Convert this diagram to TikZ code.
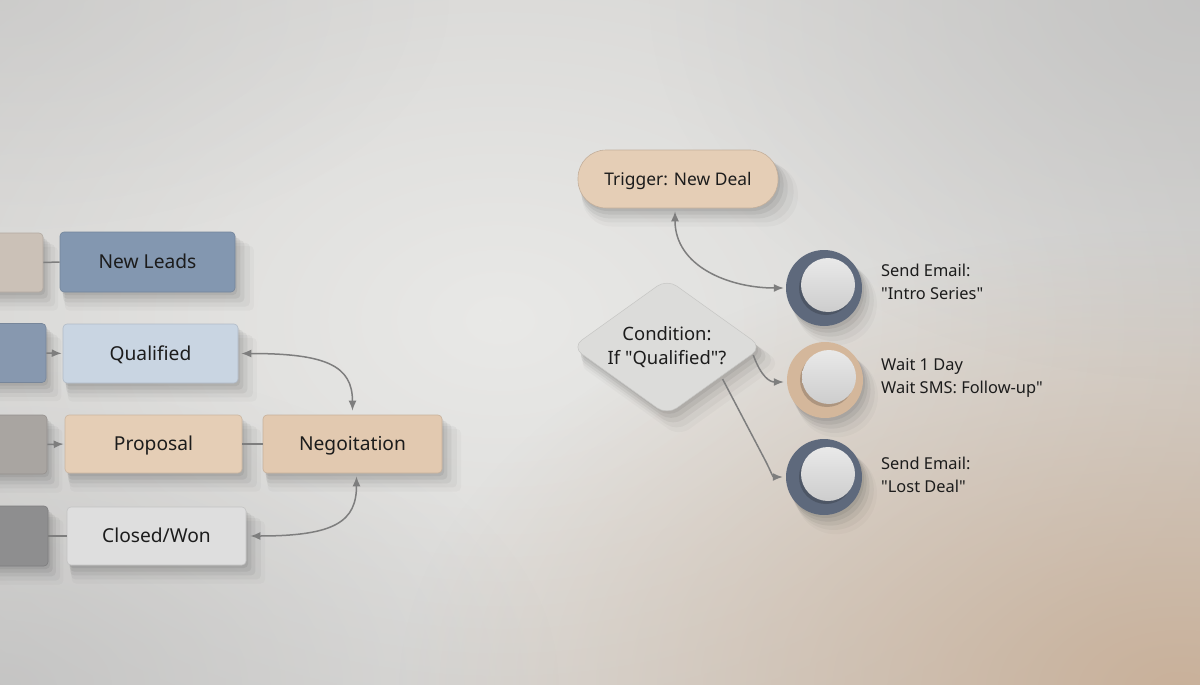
\documentclass[tikz,border=0pt]{standalone}
\usepackage{fontspec}
\setmainfont{Noto Sans}[Ligatures=TeXOff]
\usetikzlibrary{shapes.geometric,arrows.meta,shadows,fadings}
\tikzfading[name=softout, inner color=transparent!0, outer color=transparent!100]
\definecolor{bgbase}{HTML}{D4D3D1}
\definecolor{bglight}{HTML}{E9E9E7}
\definecolor{bgbeige}{HTML}{C6A88C}
\definecolor{bggray}{HTML}{BBBBBB}
\definecolor{stubA}{HTML}{CBC1B7}
\definecolor{stubB}{HTML}{8798AF}
\definecolor{stubC}{HTML}{A9A5A1}
\definecolor{stubD}{HTML}{8E8E8F}
\definecolor{slate}{HTML}{8397B0}
\definecolor{paleblue}{HTML}{C9D5E2}
\definecolor{sand}{HTML}{E5CEB6}
\definecolor{sandB}{HTML}{E2C9B0}
\definecolor{lightgray}{HTML}{DEDEDE}
\definecolor{diafill}{HTML}{DCDCDA}
\definecolor{ringdark}{HTML}{5E697C}
\definecolor{ringsand}{HTML}{D4B79B}
\definecolor{innerc}{HTML}{DADADA}
\definecolor{txt}{HTML}{1C1C1C}
\definecolor{arr}{HTML}{7E7E7E}
\begin{document}
\begin{tikzpicture}[x=1pt,y=-1pt,
  shad/.style={
    drop shadow={shadow xshift=11pt,shadow yshift=-15pt,shadow scale=1.08,opacity=0.025,fill=black},
    drop shadow={shadow xshift=9pt,shadow yshift=-12pt,shadow scale=1.06,opacity=0.035,fill=black},
    drop shadow={shadow xshift=6pt,shadow yshift=-9pt,shadow scale=1.035,opacity=0.05,fill=black},
    drop shadow={shadow xshift=4pt,shadow yshift=-6pt,shadow scale=1.015,opacity=0.06,fill=black},
    drop shadow={shadow xshift=2pt,shadow yshift=-3pt,opacity=0.06,fill=black}},
  box/.style={rectangle,rounded corners=4pt,draw=#1!88!black,line width=0.6pt,fill=#1,
    text=txt,font=\fontsize{19.2}{23}\selectfont,text height=13.6pt,text depth=0pt,shad},
  stub/.style={rectangle,rounded corners=4pt,draw=#1!88!black,line width=0.6pt,fill=#1,shad},
  pill/.style={rectangle,rounded corners=28pt,draw=sand!85!black,line width=0.6pt,fill=sand,
    text=txt,font=\fontsize{17.4}{22}\selectfont,text height=12.4pt,text depth=0pt,shad},
  dia/.style={diamond,rounded corners=12pt,fill=diafill,draw=diafill!90!black,line width=0.5pt,
    inner sep=0pt,shad},
  diatext/.style={align=center,text=txt,font=\fontsize{18.4}{24}\selectfont,inner sep=0pt},
  ring/.style={circle,minimum size=76pt,inner sep=0pt,fill=#1,shad},
  innerball/.style={circle,minimum size=54pt,inner sep=0pt,top color=innerc!60!white,bottom color=innerc!94!black,
    drop shadow={shadow xshift=-2pt,shadow yshift=-3pt,opacity=0.18,fill=black}},
  lab/.style={anchor=west,align=left,text=txt,font=\fontsize{16.4}{22.5}\selectfont,inner sep=0pt},
  conn/.style={draw=arr,line width=1.5pt},
  tip/.style={-{Latex[length=10pt,width=8pt]}},
  tips/.style={{Latex[length=10pt,width=8pt]}-{Latex[length=10pt,width=8pt]}}
]
\clip (0,0) rectangle (1200,685);
% background
\fill[bgbase] (0,0) rectangle (1200,685);
\fill[bglight,path fading=softout] (500,320) ellipse (760 and 520);
\fill[bgbeige,opacity=0.8,path fading=softout] (1180,690) ellipse (780 and 460);
\fill[bggray,opacity=0.6,path fading=softout] (1200,0) ellipse (550 and 380);
\fill[bggray,opacity=0.6,path fading=softout] (0,685) ellipse (560 and 330);
\fill[bggray,opacity=0.35,path fading=softout] (0,0) ellipse (450 and 250);

% left stubs
\node[stub=stubA,minimum width=83pt,minimum height=59pt] (s1) at (1.5,262.5) {};
\node[stub=stubB,minimum width=86pt,minimum height=59pt] (s2) at (3,353) {};
\node[stub=stubC,minimum width=87pt,minimum height=59pt] (s3) at (3.5,444.5) {};
\node[stub=stubD,minimum width=88pt,minimum height=60pt] (s4) at (4,536) {};

% pipeline boxes
\node[box=slate,minimum width=175pt,minimum height=60pt] (nl) at (147.5,262) {New Leads};
\node[box=paleblue,minimum width=175pt,minimum height=59pt] (q) at (150.5,353.5) {Qualified};
\node[box=sand,minimum width=177pt,minimum height=58pt] (p) at (153.5,444) {Proposal};
\node[box=sandB,minimum width=179pt,minimum height=58pt] (n) at (352.5,444) {Negoitation};
\node[box=lightgray,minimum width=179pt,minimum height=58pt] (c) at (156.5,536) {Closed/Won};

\draw[conn] (s1.east) -- (nl.west);
\draw[conn,tip,shorten >=1pt] (s2.east) -- (q.west);
\draw[conn,tip,shorten >=1pt] (s3.east) -- (p.west);
\draw[conn] (s4.east) -- (c.west);
\draw[conn] (p.east) -- (n.west);
\draw[conn,tips] ([xshift=3pt]q.east) .. controls +(85,0) and +(0,-45) .. ([yshift=4pt]n.north);
\draw[conn,tips] ([xshift=4pt]c.east) .. controls +(85,0) and +(0,45) .. ([xshift=4pt,yshift=-3pt]n.south);

% automation side
\node[pill,minimum width=200pt,minimum height=58pt] (tr) at (678,179) {Trigger: New Deal};
\node[dia,minimum width=190pt,minimum height=136pt] (d) at (667,347) {};
\node[diatext] (dt) at (d.center) {Condition:\\If "Qualified"?};

\node[ring=ringdark] (c1) at (824,288) {};
\node[innerball] (c1i) at ([xshift=4pt,yshift=3pt]c1.center) {};
\node[ring=ringsand] (c2) at (825,380) {};
\node[innerball] (c2i) at ([xshift=4pt,yshift=3pt]c2.center) {};
\node[ring=ringdark] (c3) at (824,477) {};
\node[innerball] (c3i) at ([xshift=4pt,yshift=3pt]c3.center) {};

\draw[conn,tips] ([xshift=-3pt,yshift=-3pt]tr.south) .. controls +(0,55) and +(-55,0) .. ([xshift=-2pt]c1.west);
\draw[conn,tip] ([xshift=-9pt,yshift=-8pt]d.east) .. controls +(8,22) and +(-14,0) .. ([xshift=-3pt,yshift=-2pt]c2.west);
\draw[conn,tip] ([xshift=8pt,yshift=2pt]d.south east) -- ++(43,82) .. controls +(6,12) and +(-10,0) .. ([xshift=-3pt]c3.west);

\node[lab] (l1) at (881,282) {Send Email:\\"Intro Series"};
\node[lab] (l2) at (881,378) {Wait 1 Day\\Wait SMS: Follow-up"};
\node[lab] (l3) at (881,475) {Send Email:\\"Lost Deal"};
\end{tikzpicture}
\end{document}
